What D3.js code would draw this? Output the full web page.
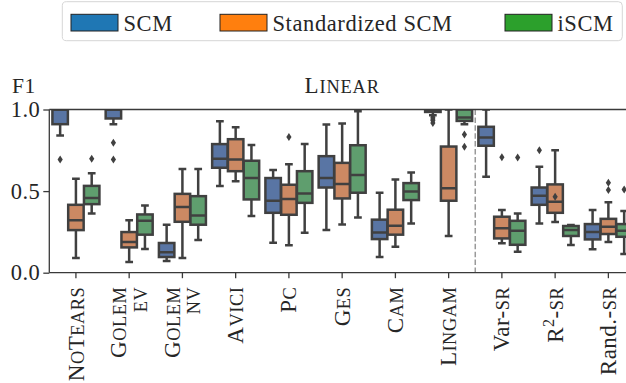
<!DOCTYPE html>
<html>
<head>
<meta charset="utf-8">
<script src="https://cdn.jsdelivr.net/npm/d3@7"></script>
<style>
  html, body { margin: 0; padding: 0; background: #fff; }
  svg { display: block; }
  svg text { font-family: 'Liberation Serif', 'DejaVu Serif', serif; }
</style>
</head>
<body>
<svg id="chart" width="626" height="383"></svg>
<script>
// categories on the x axis and their tick labels (|...| = small caps, ^ = superscript)
const categories = ['NoTears', 'GolemEv', 'GolemNv', 'Avici', 'Pc', 'Ges', 'Cam', 'Lingam', 'VarSr', 'R2Sr', 'RandSr'];
const tickLabels = [['|NoTears|'], ['|Golem|', '|ev|'], ['|Golem|', '|nv|'], ['|Avici|'], ['|Pc|'], ['|Ges|'],
  ['|Cam|'], ['|Lingam|'], ['Var-|sr|'], ['R^2-|sr|'], ['Rand.-|sr|']];
const series = ['SCM', 'Standardized SCM', 'iSCM'];
const yTicks = [0, 0.5, 1.0];

// box summaries per category: [whisker low, q1, median, q3, whisker high]
const scmBoxes = [
  [0.84, 0.91, 1.0, 1.0, 1.0], [0.91, 0.945, 1.0, 1.0, 1.0], [0.072, 0.096, 0.125, 0.182, 0.294],
  [0.531, 0.643, 0.698, 0.788, 0.928], [0.184, 0.367, 0.441, 0.58, 0.63], [0.261, 0.522, 0.581, 0.714, 0.908],
  [0.096, 0.206, 0.247, 0.325, 0.49], [0.965, 0.985, 1.0, 1.0, 1.0], [0.588, 0.778, 0.829, 0.894, 1.0],
  [0.302, 0.416, 0.471, 0.522, 0.649], [0.143, 0.204, 0.249, 0.298, 0.384],
];
const scmOutliers = [[0.694], [0.796, 0.694], [], [], [], [], [], [0.952, 0.942, 0.932, 0.918], [], [0.751], []];

const stdBoxes = [
  [0.09, 0.261, 0.322, 0.416, 0.575], [0.065, 0.155, 0.188, 0.249, 0.322], [0.09, 0.312, 0.402, 0.483, 0.635],
  [0.561, 0.622, 0.694, 0.818, 0.892], [0.168, 0.355, 0.451, 0.539, 0.665], [0.296, 0.455, 0.543, 0.673, 0.914],
  [0.159, 0.233, 0.288, 0.386, 0.571], [0.225, 0.441, 0.518, 0.773, 1.0], [0.18, 0.21, 0.272, 0.343, 0.384],
  [0.31, 0.367, 0.435, 0.541, 0.751], [0.188, 0.237, 0.282, 0.33, 0.431],
];
const stdOutliers = [[], [], [], [], [0.832], [], [], [], [0.708], [0.465], [0.551, 0.506]];

const iscmBoxes = [
  [0.363, 0.42, 0.457, 0.532, 0.61], [0.145, 0.233, 0.318, 0.357, 0.412], [0.2, 0.294, 0.351, 0.469, 0.635],
  [0.347, 0.449, 0.58, 0.686, 0.783], [0.245, 0.428, 0.486, 0.622, 0.789], [0.339, 0.49, 0.598, 0.781, 0.99],
  [0.302, 0.445, 0.498, 0.549, 0.614], [0.91, 0.93, 0.951, 1.0, 1.0], [0.129, 0.171, 0.257, 0.318, 0.363],
  [0.169, 0.225, 0.261, 0.286, 0.292], [0.114, 0.22, 0.257, 0.298, 0.378],
];
const iscmOutliers = [[0.698], [], [], [], [], [], [], [0.847, 0.771], [0.706], [], [0.51]];

const legendColors = ['#1f77b4', '#ff7f0e', '#2ca02c'];
const boxColors = ['#5975a4', '#cc8963', '#5f9e6e'];
const lineColor = '#404040';
const textColor = '#262626';
const serif = 'Liberation Serif';

const svg = d3.select('#chart');
const plot = { left: 49.3, right: 635, top: 109.5, bottom: 272.7 };

const x = d3.scaleBand().domain(categories).range([plot.left, plot.right]).padding(0);
const hue = d3.scaleBand().domain(series).range([0, x.bandwidth()]).paddingOuter(0.1 / 0.8 * 1.5).paddingInner(0);
const y = d3.scaleLinear().domain([0, 1]).range([plot.bottom, plot.top]);

// clip like matplotlib does to the axes area
svg.append('clipPath').attr('id', 'axclip')
  .append('rect')
  .attr('x', plot.left).attr('y', plot.top)
  .attr('width', plot.right - plot.left).attr('height', plot.bottom - plot.top);

// dashed divider between the methods and the baselines
const divX = (x('Lingam') + x.bandwidth() + x('VarSr')) / 2;
svg.append('line')
  .attr('x1', divX).attr('x2', divX)
  .attr('y1', plot.top).attr('y2', plot.bottom)
  .attr('stroke', '#9a9a9a')
  .attr('stroke-width', 1.5)
  .attr('stroke-dasharray', '5.5,2.4');

// flatten everything into box records
const boxes = [];
const allBoxes = [scmBoxes, stdBoxes, iscmBoxes];
const allOutliers = [scmOutliers, stdOutliers, iscmOutliers];
series.forEach((s, si) => {
  categories.forEach((c, ci) => {
    const [lo, q1, med, q3, hi] = allBoxes[si][ci];
    boxes.push({ cat: c, s, si, lo, q1, med, q3, hi, out: allOutliers[si][ci] });
  });
});

const boxW = hue.bandwidth() * 0.98;
const g = svg.append('g').attr('clip-path', 'url(#axclip)');

const box = g.selectAll('.box')
  .data(boxes)
  .enter()
  .append('g')
  .attr('class', 'box')
  .attr('transform', d => `translate(${x(d.cat) + hue(d.s) + hue.bandwidth() / 2},0)`);

// whiskers
box.append('line')
  .attr('x1', 0).attr('x2', 0)
  .attr('y1', d => y(d.q3)).attr('y2', d => y(d.hi))
  .attr('stroke', lineColor).attr('stroke-width', 2.5);
box.append('line')
  .attr('x1', 0).attr('x2', 0)
  .attr('y1', d => y(d.q1)).attr('y2', d => y(d.lo))
  .attr('stroke', lineColor).attr('stroke-width', 2.5);
// caps
['lo', 'hi'].forEach((k) => {
  box.append('line')
    .attr('x1', -boxW / 4).attr('x2', boxW / 4)
    .attr('y1', d => y(d[k])).attr('y2', d => y(d[k]))
    .attr('stroke', lineColor).attr('stroke-width', 2.5);
});
// the box itself
box.append('rect')
  .attr('x', -boxW / 2)
  .attr('width', boxW)
  .attr('y', d => y(d.q3))
  .attr('height', d => Math.max(0.01, y(d.q1) - y(d.q3)))
  .attr('fill', d => boxColors[d.si])
  .attr('stroke', lineColor)
  .attr('stroke-width', 2.5);
// median
box.append('line')
  .attr('x1', -boxW / 2).attr('x2', boxW / 2)
  .attr('y1', d => y(d.med)).attr('y2', d => y(d.med))
  .attr('stroke', lineColor).attr('stroke-width', 2.5);
// outliers as thin diamonds
box.selectAll('.flier')
  .data(d => d.out)
  .enter()
  .append('path')
  .attr('class', 'flier')
  .attr('d', v => `M0,${y(v) - 4}L2.6,${y(v)}L0,${y(v) + 4}L-2.6,${y(v)}Z`)
  .attr('fill', lineColor);

// spines (no right spine, it falls outside the window)
const spine = svg.append('g').attr('stroke', '#3a3a3a').attr('stroke-width', 1.3);
spine.append('line').attr('x1', plot.left).attr('x2', plot.right).attr('y1', plot.top).attr('y2', plot.top);
spine.append('line').attr('x1', plot.left).attr('x2', plot.right).attr('y1', plot.bottom).attr('y2', plot.bottom);
spine.append('line').attr('x1', plot.left).attr('x2', plot.left).attr('y1', plot.top).attr('y2', plot.bottom);

// y axis
const yAxis = svg.append('g')
  .attr('transform', `translate(${plot.left},0)`)
  .call(d3.axisLeft(y).tickValues(yTicks).tickFormat(d3.format('.1f')).tickSize(6).tickPadding(3));
yAxis.attr('font-family', serif);
yAxis.select('.domain').remove();
yAxis.selectAll('line').attr('stroke', '#3a3a3a').attr('stroke-width', 1.3);
yAxis.selectAll('text')
  .attr('font-family', serif)
  .attr('font-size', 22.5)
  .attr('letter-spacing', 0.5)
  .attr('fill', textColor);

// x axis ticks only; labels drawn by hand for small caps
const xAxis = svg.append('g')
  .attr('transform', `translate(0,${plot.bottom})`)
  .call(d3.axisBottom(x).tickSize(5.5).tickFormat(''));
xAxis.select('.domain').remove();
xAxis.selectAll('line').attr('stroke', '#3a3a3a').attr('stroke-width', 1.3);

// write a string with |small caps| and ^superscript into a text element
function richText(sel, str, size) {
  const parts = str.split('|');
  parts.forEach((p, i) => {
    if (!p) return;
    if (i % 2 === 1) {
      // small caps: capitals at full size, the rest upper-cased and smaller
      p.split('').forEach((ch) => {
        const small = /[a-z]/.test(ch);
        sel.append('tspan')
          .attr('font-size', small ? size * 0.8 : size)
          .text(ch.toUpperCase());
      });
    } else if (p.includes('^')) {
      const [a, b] = p.split('^');
      sel.append('tspan').text(a);
      sel.append('tspan').attr('font-size', size * 0.7).attr('dy', -size * 0.4).text(b[0]);
      sel.append('tspan').attr('dy', size * 0.4).text(b.slice(1));
    } else {
      sel.append('tspan').text(p);
    }
  });
}

const labelSize = 23;
const lineGap = 21;
categories.forEach((c, i) => {
  const lines = tickLabels[i];
  const cx = x(c) + x.bandwidth() / 2;
  const lg = svg.append('g').attr('transform', `translate(${cx},${plot.bottom + 14}) rotate(-90)`);
  lines.forEach((ln, li) => {
    const t = lg.append('text')
      .attr('x', 0)
      .attr('y', (li - (lines.length - 1) / 2) * lineGap)
      .attr('dy', '0.33em')
      .attr('text-anchor', 'end')
      .attr('font-family', serif)
      .attr('font-size', labelSize)
      .attr('letter-spacing', 0.5)
      .attr('fill', textColor);
    richText(t, ln, labelSize);
  });
});

// title and y label
const title = svg.append('text')
  .attr('x', (plot.left + plot.right) / 2)
  .attr('y', 93)
  .attr('text-anchor', 'middle')
  .attr('font-family', serif)
  .attr('font-size', 23)
  .attr('letter-spacing', 0.8)
  .attr('fill', textColor);
richText(title, '|Linear|', 23);

svg.append('text')
  .attr('x', 12)
  .attr('y', 93)
  .attr('font-family', serif)
  .attr('font-size', 21.5)
  .attr('letter-spacing', 0.5)
  .attr('fill', textColor)
  .text('F1');

// legend
const legend = svg.append('g');
legend.append('rect')
  .attr('x', 62.3).attr('y', 1.7)
  .attr('width', 560).attr('height', 39)
  .attr('rx', 4)
  .attr('fill', '#fff')
  .attr('stroke', '#d6d6d6')
  .attr('stroke-width', 1);
const legendX = [71, 220, 505];
series.forEach((s, i) => {
  legend.append('rect')
    .attr('x', legendX[i]).attr('y', 14.3)
    .attr('width', 47).attr('height', 16.7)
    .attr('fill', legendColors[i])
    .attr('stroke', '#222')
    .attr('stroke-width', 1);
  legend.append('text')
    .attr('x', legendX[i] + 52.5)
    .attr('y', 31)
    .attr('font-family', serif)
    .attr('font-size', 22.5)
    .attr('letter-spacing', 0.6)
    .attr('fill', textColor)
    .text(s);
});
</script>
</body>
</html>
